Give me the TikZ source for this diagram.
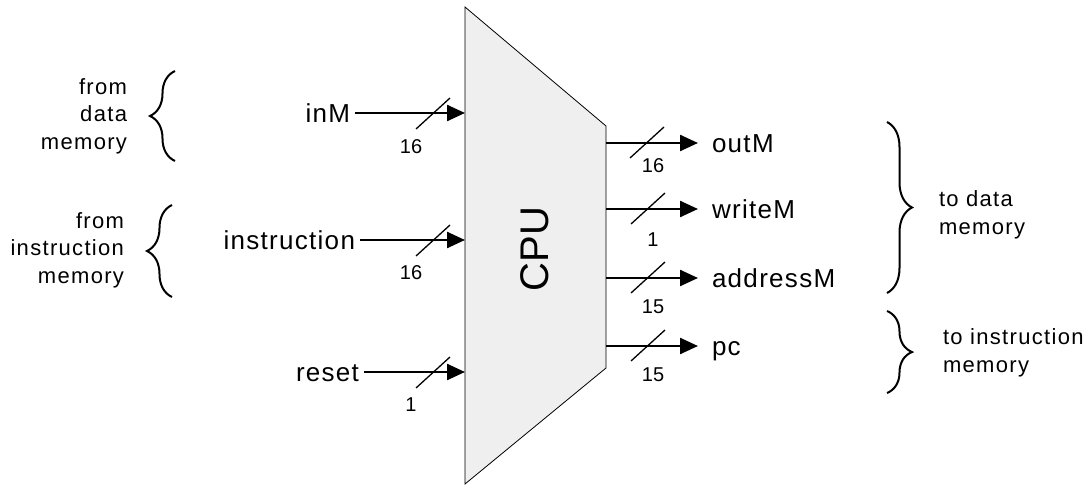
\documentclass[tikz,border=0pt]{standalone}
\usepackage{fontspec}
\setmainfont{Liberation Sans}
\newfontfamily\sigfont[LetterSpace=5]{Liberation Sans}
\newfontfamily\notefont[LetterSpace=6]{Liberation Sans}
\usetikzlibrary{arrows.meta,decorations.pathreplacing}
\definecolor{cpugray}{HTML}{EFEFEF}

\begin{document}
\begin{tikzpicture}[x=1pt,y=-1pt,inner sep=0pt,outer sep=0pt,
bus/.style={line width=2.4pt,-{Triangle[length=18pt,width=16pt]}},
busmark/.style={line width=1.3pt},
sig/.style={font=\fontsize{26}{29}\sigfont,text height=18.6pt,text depth=0pt},
insig/.style={sig,anchor=east,inner xsep=5pt},
outsig/.style={sig,anchor=west,inner xsep=14pt},
buswidth/.style={font=\fontsize{20}{22}\selectfont},
note/.style={font=\fontsize{22}{27.5}\notefont},
bracket/.style={decorate,decoration={brace,amplitude=25pt},line width=2pt}]
\useasboundingbox (0,0) rectangle (1089,486);

% the cpu block
\draw[fill=cpugray,line width=0.8pt] (465,7) -- (606,126) -- (606,368) -- (465,484) -- cycle;
\node[rotate=90,font=\fontsize{40}{40}\selectfont] (cpu) at (535,249) {CPU};

% pins on the block
\coordinate (pinInM) at (465,113);
\coordinate (pinInstr) at (465,240);
\coordinate (pinReset) at (465,372);
\coordinate (pinOutM) at (606,143);
\coordinate (pinWriteM) at (606,209);
\coordinate (pinAddrM) at (606,278);
\coordinate (pinPc) at (606,346);

% inputs
\node[insig] (inM) at (355,113) {inM};
\node[insig] (instr) at (360,240) {instruction};
\node[insig] (reset) at (364,372) {reset};
\draw[bus] (inM) -- (pinInM);
\draw[bus] (instr) -- (pinInstr);
\draw[bus] (reset) -- (pinReset);
\draw[busmark] (416,129) -- ++(34,-31);
\draw[busmark] (416,256) -- ++(34,-31);
\draw[busmark] (416,388) -- ++(34,-31);
\node[buswidth] (wInM) at (411,147) {16};
\node[buswidth] (wInstr) at (411,273) {16};
\node[buswidth] (wReset) at (411,405) {1};

% outputs
\node[outsig] (outM) at (698,143) {outM};
\node[outsig] (writeM) at (698,209) {writeM};
\node[outsig] (addrM) at (698,278) {addressM};
\node[outsig] (pc) at (698,346) {pc};
\draw[bus] (pinOutM) -- (outM);
\draw[bus] (pinWriteM) -- (writeM);
\draw[bus] (pinAddrM) -- (addrM);
\draw[bus] (pinPc) -- (pc);
\draw[busmark] (630,158) -- ++(34,-31);
\draw[busmark] (631,224) -- ++(34,-31);
\draw[busmark] (631,293) -- ++(34,-31);
\draw[busmark] (631,361) -- ++(34,-31);
\node[buswidth] (wOutM) at (653,166) {16};
\node[buswidth] (wWriteM) at (653,240) {1};
\node[buswidth] (wAddrM) at (653,307) {15};
\node[buswidth] (wPc) at (653,375) {15};

% where the buses come from and go to
\draw[bracket] (175,161) -- (175,71);
\draw[bracket] (172,297) -- (172,205);
\draw[bracket] (887,122) -- (887,293);
\draw[bracket] (887,311) -- (887,393);
\node[note,align=right,anchor=east] (fromData) at (127,116) {from\\data\\memory};
\node[note,align=right,anchor=east] (fromInstr) at (124,250) {from\\instruction\\memory};
\node[note,align=left,anchor=west] (toData) at (939,215) {to data\\memory};
\node[note,align=left,anchor=west] (toInstr) at (943,353) {to instruction\\memory};
\end{tikzpicture}
\end{document}
